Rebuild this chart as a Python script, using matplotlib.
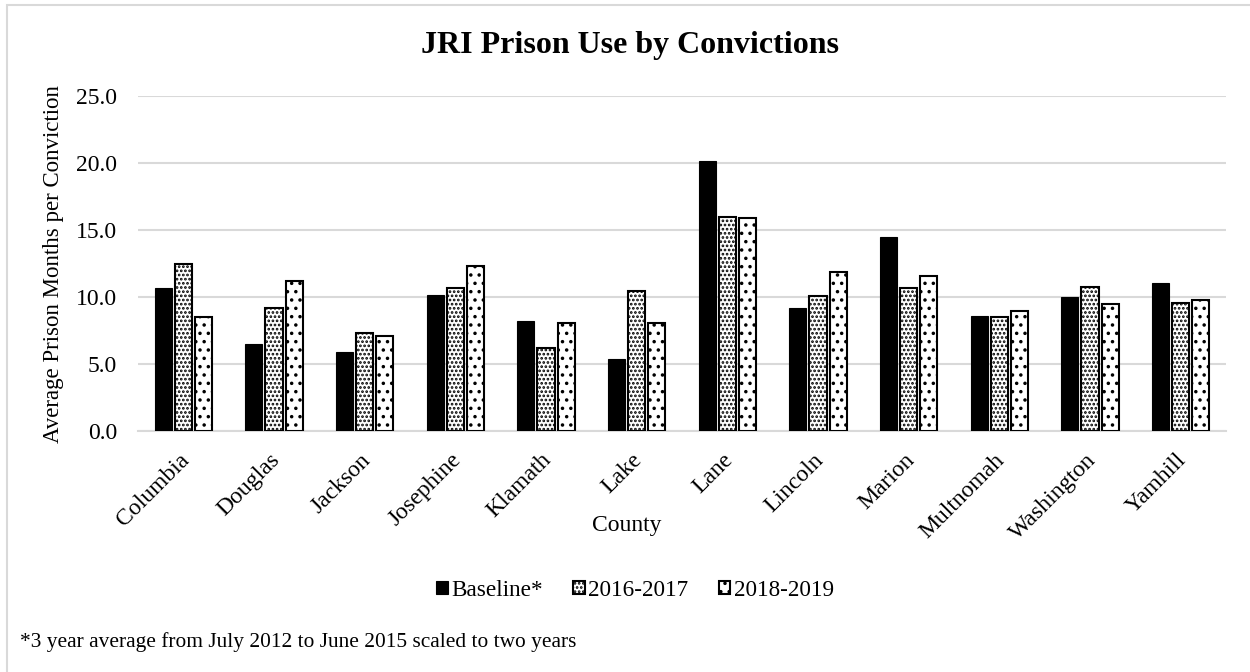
import matplotlib
matplotlib.use("Agg")
import matplotlib.pyplot as plt
import matplotlib.transforms as mtransforms
import numpy as np
from matplotlib.patches import Rectangle

counties = ["Columbia", "Douglas", "Jackson", "Josephine", "Klamath", "Lake",
            "Lane", "Lincoln", "Marion", "Multnomah", "Washington", "Yamhill"]
baseline = [10.7, 6.5, 5.9, 10.2, 8.2, 5.4, 20.2, 9.2, 14.5, 8.6, 10.0, 11.1]
y2016_2017 = [12.5, 9.2, 7.3, 10.7, 6.2, 10.5, 16.0, 10.1, 10.7, 8.5, 10.8, 9.6]
y2018_2019 = [8.5, 11.2, 7.1, 12.3, 8.1, 8.1, 15.9, 11.9, 11.6, 9.0, 9.5, 9.8]
series_names = ["Baseline*", "2016-2017", "2018-2019"]
yticks = [0, 5, 10, 15, 20, 25]

plt.rcParams['font.family'] = ['Liberation Serif', 'DejaVu Serif']
plt.rcParams['hatch.linewidth'] = 1.3
plt.rcParams['hatch.color'] = 'black'

W, H = 1250, 672
fig = plt.figure(figsize=(W / 100, H / 100), dpi=100)
ax = fig.add_axes([138 / W, 1 - 431.3 / H, (1226 - 138) / W, (431.3 - 96.3) / H])

x = np.arange(len(counties))
bw = 0.19
step = 0.222
ax.bar(x - step, baseline, bw, color='black', edgecolor='black', linewidth=0.8,
       label=series_names[0], zorder=3)
ax.bar(x, y2016_2017, bw, color='white', edgecolor='black', linewidth=1.5,
       hatch='....', label=series_names[1], zorder=3)
ax.bar(x + step, y2018_2019, bw, color='white', edgecolor='black', linewidth=1.5,
       hatch='..', label=series_names[2], zorder=3)

ax.set_xlim(-0.5, len(counties) - 0.5)
ax.set_ylim(0, 25)
ax.set_yticks(yticks)
ax.set_yticklabels([f"{v:.1f}" for v in yticks], fontsize=17)
ax.tick_params(axis='y', length=0, pad=15)
ax.tick_params(axis='x', length=0, pad=13)
ax.set_xticks(x)
ax.set_xticklabels(counties, rotation=45, ha='right', rotation_mode='anchor', fontsize=17)
for lbl in ax.get_xticklabels():
    lbl.set_transform(lbl.get_transform() +
                      mtransforms.ScaledTranslation(-5 / 100, 0, fig.dpi_scale_trans))
ax.grid(axis='y', color='#d9d9d9', linewidth=1.5, zorder=0)
ax.set_axisbelow(True)
for s in ['top', 'right', 'left']:
    ax.spines[s].set_visible(False)
ax.spines['bottom'].set_color('#d9d9d9')
ax.spines['bottom'].set_linewidth(1.5)

ax.set_ylabel("Average Prison Months per Conviction", fontsize=16.5, labelpad=9)
fig.text(630 / W, 1 - 46 / H, "JRI Prison Use by Convictions", fontsize=23,
         fontweight='bold', ha='center', va='center')
fig.text(627 / W, 1 - 526 / H, "County", fontsize=17, ha='center', va='center')
fig.text(20 / W, 1 - 642 / H, "*3 year average from July 2012 to June 2015 scaled to two years",
         fontsize=15.4, ha='left', va='center')

leg = fig.legend(loc='center', bbox_to_anchor=(635 / W, 1 - 590 / H), ncol=3,
                 frameon=False, fontsize=16.7, handlelength=0.5, handleheight=0.5,
                 handletextpad=0.15, columnspacing=1.3, borderaxespad=0)

fig.patches.append(Rectangle((7 / W, -0.05), 1.1, 1 - 5 / H + 0.05, transform=fig.transFigure,
                             fill=False, edgecolor='#d9d9d9', linewidth=1.5, zorder=-1))

fig.savefig("out.png", dpi=100)
